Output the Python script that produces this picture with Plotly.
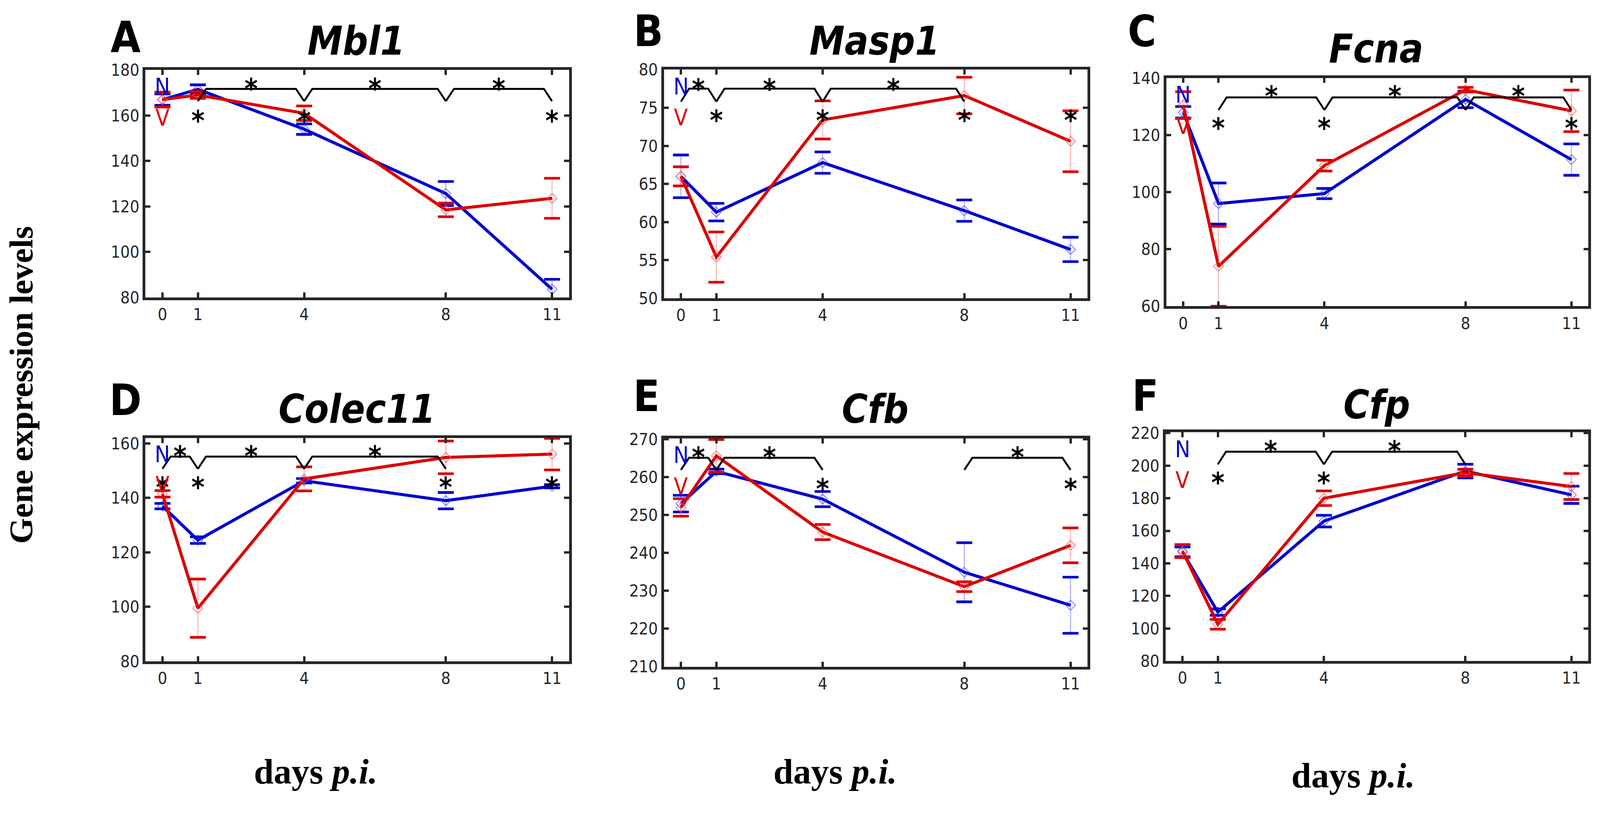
import plotly.graph_objects as go

# sampling days (post infection)
days = [0, 1, 4, 8, 11]

genes = ["Mbl1", "Masp1", "Fcna", "Colec11", "Cfb", "Cfp"]
letters = ["A", "B", "C", "D", "E", "F"]

# N = blue series, V = red series (mean and error)
mbl1_n = [167.0, 171.5, 154.0, 125.7, 83.6]
mbl1_n_err = [2.5, 2.0, 2.3, 5.3, 4.4]
mbl1_v = [167.0, 169.0, 161.0, 118.5, 123.6]
mbl1_v_err = [3.3, 1.5, 3.2, 3.0, 8.8]

masp1_n = [66.0, 61.3, 67.8, 61.5, 56.4]
masp1_n_err = [2.8, 1.15, 1.4, 1.4, 1.6]
masp1_v = [66.0, 55.4, 73.4, 76.6, 70.6]
masp1_v_err = [1.25, 3.3, 2.5, 2.4, 4.0]

fcna_n = [128.0, 96.0, 99.5, 132.5, 111.4]
fcna_n_err = [2.0, 7.2, 1.8, 2.9, 5.5]
fcna_v = [130.5, 74.0, 109.3, 135.9, 128.5]
fcna_v_err = [4.7, 14.0, 1.9, 0.8, 7.3]

colec11_n = [137.0, 124.5, 146.3, 139.0, 144.3]
colec11_n_err = [1.0, 1.2, 0.8, 3.0, 0.6]
colec11_v = [141.5, 99.5, 147.0, 154.9, 156.1]
colec11_v_err = [1.2, 10.7, 4.4, 6.0, 5.8]

cfb_n = [253.0, 261.5, 254.2, 234.9, 226.2]
cfb_n_err = [2.2, 0.6, 2.0, 7.8, 7.4]
cfb_v = [252.0, 265.6, 245.5, 231.1, 242.0]
cfb_v_err = [2.3, 4.3, 2.0, 1.3, 4.6]

cfp_n = [147.0, 110.0, 165.9, 196.7, 182.1]
cfp_n_err = [3.0, 2.0, 3.6, 4.2, 5.3]
cfp_v = [147.5, 102.5, 180.0, 195.7, 187.2]
cfp_v_err = [4.0, 3.0, 4.5, 2.1, 8.0]

# significant comparisons between days (brackets) and significant days
mbl1_pairs = [(1, 4), (4, 8), (8, 11)]
mbl1_sig = [1, 4, 11]
masp1_pairs = [(0, 1), (1, 4), (4, 8)]
masp1_sig = [1, 4, 8, 11]
fcna_pairs = [(1, 4), (4, 8), (8, 11)]
fcna_sig = [1, 4, 11]
colec11_pairs = [(0, 1), (1, 4), (4, 8)]
colec11_sig = [0, 1, 8, 11]
cfb_pairs = [(0, 1), (1, 4), (8, 11)]
cfb_sig = [4, 11]
cfp_pairs = [(1, 4), (4, 8)]
cfp_sig = [1, 4]

# visible page area is narrower than asked, so lay out in reference pixels and map
SX = 4096 / 4268
SY = 1.0
OFF = 8           # body margin
W = 4096 - 2 * OFF
H = 2085 - 2 * OFF
FS = 0.97         # font / stroke scale

BLUE = "#0000CD"
RED = "#DC0000"
AXC = "#262626"
SANS = "DejaVu Sans Condensed, DejaVu Sans, sans-serif"
SERIF = "Liberation Serif, DejaVu Serif, serif"


def fx(x):
    return (SX * x - OFF) / W


def fy(y):
    return 1 - (SY * y - OFF) / H


def sz(v):
    return v * FS


# layout per panel (reference pixels): box (x0, x1, y0, y1), y range, tick step,
# bracket line / drop / star levels, title and letter centres
panels = [
    dict(n=mbl1_n, ne=mbl1_n_err, v=mbl1_v, ve=mbl1_v_err, pairs=mbl1_pairs, sig=mbl1_sig,
         box=(388, 1518, 158, 755), yr=(80, 180), step=20,
         lev=(171.7, 166.3, 174.3, 160.2), title=(950, 82), letter=(335, 72)),
    dict(n=masp1_n, ne=masp1_n_err, v=masp1_v, ve=masp1_v_err, pairs=masp1_pairs, sig=masp1_sig,
         box=(1771, 2901, 157, 757), yr=(50, 80), step=5,
         lev=(77.5, 75.8, 78.2, 74.1), title=(2333, 82), letter=(1730, 56)),
    dict(n=fcna_n, ne=fcna_n_err, v=fcna_v, ve=fcna_v_err, pairs=fcna_pairs, sig=fcna_sig,
         box=(3111, 4237, 179, 778), yr=(60, 140), step=20,
         lev=(133.2, 128.8, 135.6, 124.4), title=(3671, 102), letter=(3046, 56)),
    dict(n=colec11_n, ne=colec11_n_err, v=colec11_v, ve=colec11_v_err, pairs=colec11_pairs, sig=colec11_sig,
         box=(388, 1518, 1124, 1710), yr=(80, 162), step=20,
         lev=(155.2, 150.7, 157.4, 146.0), title=(952, 1048), letter=(335, 1024)),
    dict(n=cfb_n, ne=cfb_n_err, v=cfb_v, ve=cfb_v_err, pairs=cfb_pairs, sig=cfb_sig,
         box=(1771, 2901, 1125, 1724), yr=(210, 270.2), step=10,
         lev=(265.1, 261.9, 266.7, 258.4), title=(2335, 1048), letter=(1725, 1014)),
    dict(n=cfp_n, ne=cfp_n_err, v=cfp_v, ve=cfp_v_err, pairs=cfp_pairs, sig=cfp_sig,
         box=(3109, 4237, 1109, 1709), yr=(80, 220.5), step=20,
         lev=(208.6, 200.8, 212.4, 193.1), title=(3673, 1037), letter=(3055, 1013)),
]

XR = [-0.48, 11.48]
DELTA = 0.23


def note(**kw):
    d = dict(showarrow=False, xanchor="center", yanchor="middle")
    d.update(kw)
    return d


fig = go.Figure()
annotations = []
layout = {}

for i, p in enumerate(panels):
    k = "" if i == 0 else str(i + 1)
    xa, ya = "x" + k, "y" + k
    x0, x1, y0, y1 = p["box"]
    layout["xaxis" + k] = dict(
        domain=[fx(x0), fx(x1)], range=XR, anchor=ya,
        tickvals=days, ticktext=[str(d) for d in days])
    lo, hi = p["yr"]
    ticks = list(range(int(lo), int(hi) + 1, p["step"]))
    layout["yaxis" + k] = dict(
        domain=[fy(y1), fy(y0)], range=[lo, hi], anchor=xa, tickvals=ticks)

    # series: blue (N) first, red (V) on top
    for vals, errs, col, light, stem in [
        (p["n"], p["ne"], BLUE, "rgba(70,70,255,0.75)", "rgba(90,90,255,0.45)"),
        (p["v"], p["ve"], RED, "rgba(235,90,90,0.8)", "rgba(240,110,110,0.45)"),
    ]:
        fig.add_trace(go.Scatter(
            x=days, y=vals, xaxis=xa, yaxis=ya, mode="lines+markers",
            line=dict(color=col, width=sz(8)),
            marker=dict(symbol="diamond-open", size=sz(20), color=light, line=dict(width=2)),
            error_y=dict(type="data", array=errs, color=stem, thickness=3, width=0),
            showlegend=False))
        caps_y = [v + e for v, e in zip(vals, errs)] + [v - e for v, e in zip(vals, errs)]
        fig.add_trace(go.Scatter(
            x=days + days, y=caps_y, xaxis=xa, yaxis=ya, mode="markers",
            marker=dict(symbol="line-ew", size=sz(30), line=dict(width=sz(7), color=col)),
            showlegend=False))

    # significance brackets
    top, drop, star_top, star_low = p["lev"]
    bx, by = [], []
    for a, b in p["pairs"]:
        bx += [a, a + DELTA, b - DELTA, b, None]
        by += [drop, top, top, drop, None]
        annotations.append(note(
            x=(a + b) / 2, y=star_top, xref=xa, yref=ya, text="<b>*</b>",
            font=dict(family=SANS, size=sz(74), color="black"), yshift=-14))
    fig.add_trace(go.Scatter(
        x=bx, y=by, xaxis=xa, yaxis=ya, mode="lines",
        line=dict(color="black", width=sz(5)), showlegend=False))
    for d in p["sig"]:
        annotations.append(note(
            x=d, y=star_low, xref=xa, yref=ya, text="<b>*</b>",
            font=dict(family=SANS, size=sz(74), color="black"), yshift=-14))

    # N / V labels
    annotations.append(note(x=0, y=0.926, xref=xa, yref=ya + " domain", text="N",
                            font=dict(family=SANS, size=sz(60), color=BLUE)))
    annotations.append(note(x=0, y=0.79, xref=xa, yref=ya + " domain", text="V",
                            font=dict(family=SANS, size=sz(60), color=RED)))

    # gene title and panel letter
    tx, ty = p["title"]
    annotations.append(note(x=fx(tx), y=fy(ty), xref="paper", yref="paper",
                            text="<b><i>%s</i></b>" % genes[i],
                            font=dict(family=SANS, size=sz(104), color="black")))
    lx, ly = p["letter"]
    annotations.append(note(x=fx(lx), y=fy(ly), xref="paper", yref="paper",
                            text="<b>%s</b>" % letters[i],
                            font=dict(family=SANS, size=sz(114), color="black")))

# shared axis texts
annotations.append(note(x=fx(57), y=fy(985), xref="paper", yref="paper",
                        text="<b>Gene expression levels</b>", textangle=-90,
                        font=dict(family=SERIF, size=sz(88), color="black")))
for cx, cy in [(842, 2000), (2228, 2000), (3610, 2010)]:
    annotations.append(note(x=fx(cx), y=fy(cy), xref="paper", yref="paper",
                            text="<b>days <i>p.i.</i></b>",
                            font=dict(family=SERIF, size=sz(94), color="black")))

fig.update_layout(
    width=W, height=H, margin=dict(l=0, r=0, t=0, b=0),
    plot_bgcolor="white", paper_bgcolor="white",
    annotations=annotations, **layout)
axis_style = dict(showgrid=False, zeroline=False, showline=True, linewidth=sz(7),
                  linecolor=AXC, mirror="ticks", ticks="inside", ticklen=sz(13),
                  tickwidth=sz(6), tickcolor=AXC,
                  tickfont=dict(family=SANS, size=sz(44), color=AXC))
fig.update_xaxes(**axis_style)
fig.update_yaxes(**axis_style)

fig.write_html("out.html")
